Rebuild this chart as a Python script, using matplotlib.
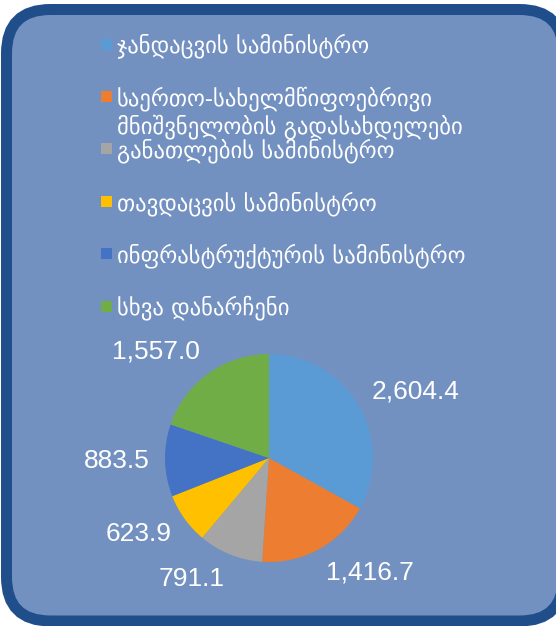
import matplotlib
matplotlib.use("Agg")
import matplotlib.pyplot as plt
from matplotlib.patches import FancyBboxPatch, Rectangle
import numpy as np

# ---- data ----
categories = [
    "ჯანდაცვის სამინისტრო",
    "საერთო-სახელმწიფოებრივი\nმნიშვნელობის გადასახდელები",
    "განათლების სამინისტრო",
    "თავდაცვის სამინისტრო",
    "ინფრასტრუქტურის სამინისტრო",
    "სხვა დანარჩენი",
]
values = [2604.4, 1416.7, 791.1, 623.9, 883.5, 1557.0]
colors = ["#5B9BD5", "#ED7D31", "#A5A5A5", "#FFC000", "#4472C4", "#70AD47"]

W, H, DPI = 556, 626, 100
fig = plt.figure(figsize=(W / DPI, H / DPI), dpi=DPI)
fig.patch.set_facecolor("white")

# rounded background panel (pixel coordinates, y from bottom)
panel = FancyBboxPatch((6.5, 5), 557, 611.5,
                       boxstyle="round,pad=0,rounding_size=44",
                       facecolor="#7391C0", edgecolor="#1F4E8B",
                       linewidth=11 * 72 / DPI, transform=None, zorder=-5)
fig.patches.append(panel)

# ---- pie ----
cx, cy, R = 269, H - 458, 104
a = 1.6
side = 2 * a * R
ax = fig.add_axes([(cx - side / 2) / W, (cy - side / 2) / H, side / W, side / H])
ax.set_zorder(2)
ax.axis("off")
ax.patch.set_alpha(0)

wedges, _ = ax.pie(values, colors=colors, startangle=90, counterclock=False,
                   radius=1.0, wedgeprops=dict(linewidth=0))
ax.set_xlim(-a, a)
ax.set_ylim(-a, a)
ax.set_aspect("equal")

for w, v in zip(wedges, values):
    mid = np.deg2rad((w.theta1 + w.theta2) / 2)
    x, y = 1.15 * np.cos(mid), 1.15 * np.sin(mid)
    ha = "left" if x > 0 else "right"
    ax.annotate(f"{v:,.1f}", (x, y), xytext=(0, 8 * np.sin(mid)),
                textcoords="offset points", ha=ha, va="center",
                fontsize=19, color="white", family="Liberation Sans")

# ---- legend (manual, Excel-like slots) ----
slot_top = 44
slot_step = 52.4
line_step = 28
for i, (lab, col) in enumerate(zip(categories, colors)):
    yc = slot_top + i * slot_step
    fig.patches.append(Rectangle((101, H - yc - 5.5), 11, 11, facecolor=col,
                                 edgecolor="none", transform=None, zorder=2))
    for j, line in enumerate(lab.split("\n")):
        fig.text(117 / W, (H - (yc + 2 + j * line_step)) / H, line,
                 ha="left", va="center", fontsize=16.3, color="white",
                 family="DejaVu Sans")

fig.savefig("out.png", dpi=DPI)
